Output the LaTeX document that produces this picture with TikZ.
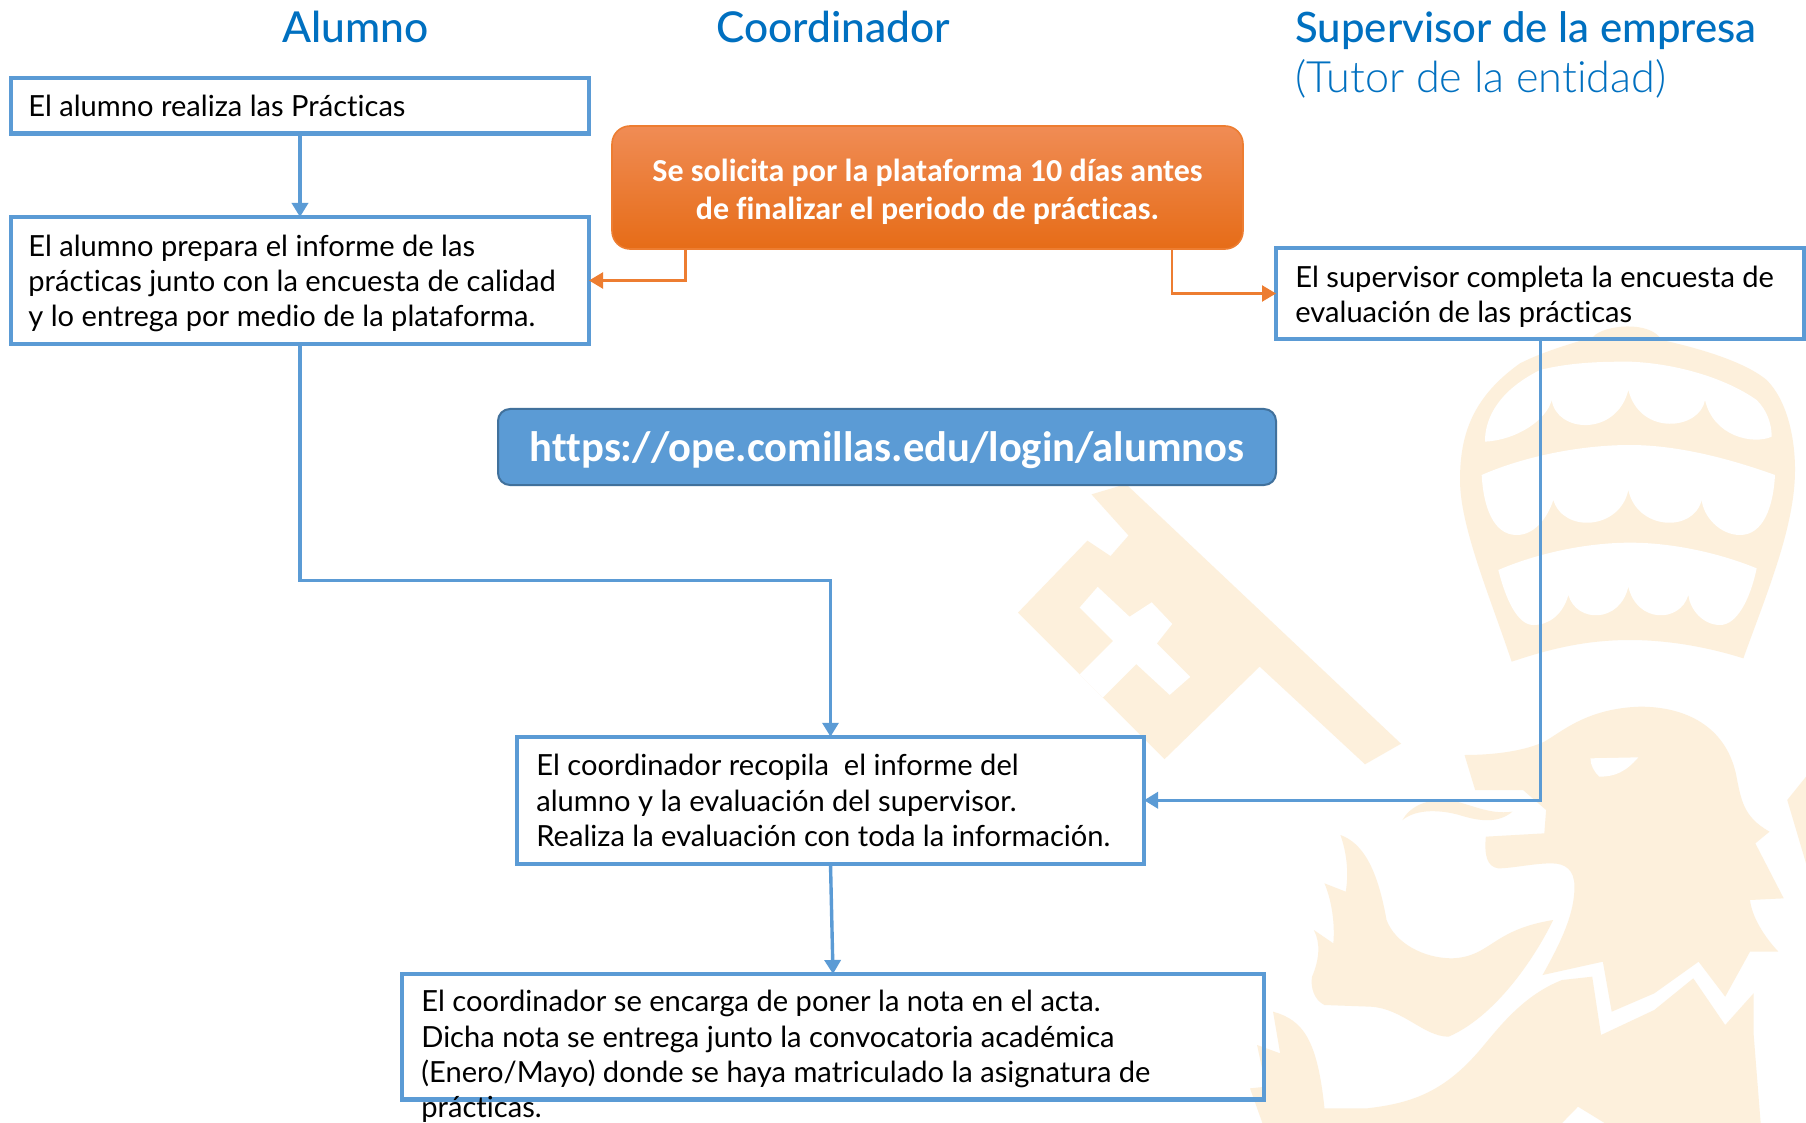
\documentclass[tikz,border=0pt]{standalone}
\usepackage{fontspec}
\usetikzlibrary{arrows.meta}
\setmainfont[Ligatures=NoCommon]{Lato}
\newfontfamily\carlito[Ligatures=NoCommon]{Carlito}
\newfontfamily\latomed[Ligatures=NoCommon]{Lato Medium}
\newfontfamily\latolight[Ligatures=NoCommon]{Lato Light}
\definecolor{boxblue}{HTML}{5B9BD5}
\definecolor{urlborder}{HTML}{41719C}
\definecolor{orangeline}{HTML}{ED7D31}
\definecolor{titleblue}{HTML}{0070C0}
\definecolor{crest}{HTML}{FDF0DC}
\tikzset{
  flowbox/.style={draw=boxblue,line width=2.2pt,outer sep=0pt,inner sep=0pt},
  boxtext/.style={anchor=north west,inner sep=0pt,align=left,font=\fontsize{14.55}{17.6}\selectfont,text=black},
  titletext/.style={anchor=base west,inner sep=0pt,text=titleblue},
  blueflow/.style={draw=boxblue,line width=1.7pt,-{Triangle[length=7pt,width=8pt]}},
  orangeflow/.style={draw=orangeline,line width=1.2pt,-{Triangle[length=7pt,width=8pt]}},
  crestfill/.style={fill=crest,draw=none},
  crestgap/.style={fill=white,draw=none}
}
\begin{document}
\begin{tikzpicture}[x=0.5pt,y=-0.5pt]
\useasboundingbox (0,0) rectangle (1806,1123);
\fill[white] (0,0) rectangle (1806,1123);
% crown
\begin{scope}[shift={(1440,320)},x=0.16667pt,y=-0.16667pt]
\fill[crestfill] (215,1025) .. controls (150,830) and (60,620) .. (60,480)
  .. controls (60,340) and (100,230) .. (240,130) .. controls (320,90) and (400,70) .. (460,50)
  .. controls (490,15) and (630,0) .. (665,60) .. controls (800,90) and (920,130) .. (980,180)
  .. controls (1040,240) and (1065,350) .. (1065,450) .. controls (1065,620) and (980,820) .. (910,1015)
  .. controls (800,980) and (680,960) .. (570,960) .. controls (430,960) and (320,990) .. (215,1025) -- cycle;
\fill[crestgap] (135,355) .. controls (140,270) and (200,200) .. (300,150) .. controls (400,125) and (500,125) .. (570,125)
  .. controls (700,130) and (850,170) .. (950,240) .. controls (980,270) and (995,310) .. (995,350)
  .. controls (940,375) and (820,350) .. (795,240) .. controls (780,330) and (600,350) .. (565,210)
  .. controls (530,350) and (350,340) .. (335,240) .. controls (320,300) and (230,360) .. (135,365) -- cycle;
\fill[crestgap] (125,465) .. controls (250,410) and (420,375) .. (570,375) .. controls (720,375) and (880,420) .. (1005,465)
  .. controls (1000,560) and (970,645) .. (900,645) .. controls (840,645) and (790,590) .. (785,540)
  .. controls (760,640) and (590,630) .. (565,510) .. controls (540,630) and (370,640) .. (340,540)
  .. controls (320,600) and (280,645) .. (230,645) .. controls (160,645) and (130,560) .. (125,465) -- cycle;
\fill[crestgap] (175,750) .. controls (290,700) and (440,668) .. (570,668) .. controls (700,668) and (840,700) .. (950,745)
  .. controls (930,840) and (890,915) .. (840,915) .. controls (790,915) and (750,870) .. (745,825)
  .. controls (720,910) and (590,910) .. (565,800) .. controls (540,910) and (410,910) .. (385,825)
  .. controls (370,880) and (330,915) .. (280,915) .. controls (230,915) and (195,830) .. (175,750) -- cycle;
\end{scope}
% key
\begin{scope}[shift={(1000,317)},x=0.25707pt,y=-0.25707pt]
\fill[crestfill] (178,345) -- (245,325) -- (780,830) -- (710,870) -- (505,680) -- (320,860) -- (200,740)
  -- (155,695) -- (35,575) -- (170,435) -- (215,465) -- (250,425) -- cycle;
\fill[crestgap] (190,525) -- (252,583) -- (295,555) -- (335,597) -- (305,635) -- (370,700) -- (330,735)
  -- (265,675) -- (200,740) -- (155,695) -- (220,630) -- (155,565) -- cycle;
\end{scope}
% lion
\begin{scope}[shift={(1250,700)},x=0.1773pt,y=-0.16667pt]
\fill[crestfill] (605,165) .. controls (700,165) and (780,150) .. (830,125) .. controls (880,95) and (950,25) .. (1100,20)
  .. controls (1230,20) and (1340,80) .. (1370,220) .. controls (1385,300) and (1390,350) .. (1465,395)
  -- (1425,430) -- (1505,595) -- (1410,600) .. controls (1415,650) and (1450,710) .. (1490,755) -- (1410,755)
  -- (1340,890) -- (1265,785) -- (1140,880) -- (1020,935) -- (995,785) -- (825,825)
  .. controls (880,720) and (915,640) .. (915,560) .. controls (915,510) and (890,490) .. (850,490)
  .. controls (800,490) and (740,505) .. (700,505) .. controls (670,500) and (660,470) .. (665,410)
  -- (830,400) -- (835,330) -- (770,270) -- (635,270) -- cycle;
\fill[crestgap] (960,175) -- (1095,172) .. controls (1060,215) and (1030,230) .. (985,230) .. controls (970,215) and (960,195) .. (960,175) -- cycle;
\fill[crestfill] (430,360) .. controls (450,320) and (500,295) .. (560,300) .. controls (620,310) and (670,345) .. (740,335)
  .. controls (700,370) and (650,365) .. (590,345) .. controls (540,330) and (470,325) .. (430,360) -- cycle;
\fill[crestfill] (255,405) .. controls (320,430) and (360,510) .. (385,660) .. controls (410,730) and (490,775) .. (570,775)
  .. controls (680,770) and (680,690) .. (855,660) .. controls (800,780) and (690,950) .. (560,1010)
  .. controls (490,1010) and (430,925) .. (340,920) -- (210,915) .. controls (180,900) and (170,860) .. (175,830)
  .. controls (195,780) and (200,730) .. (180,690) -- (235,730) .. controls (240,670) and (230,600) .. (210,550)
  -- (270,575) .. controls (280,510) and (270,450) .. (255,405) -- cycle;
\fill[crestfill] (1420,880) -- (1420,1000) -- (1440,1269) -- (1000,1269) -- (925,1220) -- (880,1269) -- (35,1269)
  -- (0,1165) -- (45,1160) -- (20,1035) -- (85,1060) -- (65,935) .. controls (150,960) and (190,1020) .. (210,1225)
  -- (330,1225) .. controls (450,1210) and (540,1180) .. (640,1060) .. controls (690,1000) and (760,890) .. (880,840)
  -- (965,830) -- (990,1005) -- (1140,930) -- (1250,835) -- (1340,975) -- cycle;
\fill[crestfill] (1568,230) -- (1515,300) -- (1568,490) -- cycle;
\end{scope}
% boxes
\node[flowbox,minimum width=289pt,minimum height=27.75pt] (b1) at (300,105.75) {};
\node[flowbox,minimum width=289pt,minimum height=63.5pt] (b2) at (300,280.5) {};
\node[flowbox,minimum width=264pt,minimum height=45.5pt] (b3) at (1540,293.5) {};
\node[flowbox,minimum width=313.5pt,minimum height=63.5pt] (b4) at (830.5,800.25) {};
\node[flowbox,minimum width=431pt,minimum height=62.8pt] (b5) at (833,1036.8) {};
\node[draw=orangeline,line width=0.8pt,rounded corners=9pt,outer sep=0pt,inner sep=0pt,
  minimum width=315.5pt,minimum height=61.5pt,top color={rgb,255:red,240;green,140;blue,85},middle color={rgb,255:red,245;green,124;blue,43},bottom color={rgb,255:red,230;green,108;blue,23}] (req) at (927.5,187.5) {};
\node[inner sep=0pt,align=center,text=white,font=\carlito\bfseries\fontsize{16}{19}\selectfont] (reqtext) at (927.5,192)
  {Se solicita por la plataforma 10 días antes\\de finalizar el periodo de prácticas.};
\node[draw=urlborder,line width=1pt,rounded corners=6pt,fill=boxblue,outer sep=0pt,inner sep=0pt,
  minimum width=389pt,minimum height=38pt] (url) at (887,447) {};
\node[inner sep=0pt,text=white,font=\carlito\bfseries\fontsize{21.3}{25}\selectfont] (urltext) at (887,450.5)
  {https://ope.comillas.edu/login/alumnos};
% titles
\node[titletext,font=\fontsize{21.3}{24}\selectfont\latomed] (t1) at (282,43) {Alumno};
\node[titletext,font=\fontsize{21.25}{24}\selectfont\latomed] (t2) at (716,43) {Coordinador};
\node[titletext,font=\fontsize{20.95}{24}\selectfont\latomed] (t3) at (1295,43) {Supervisor de la empresa};
\node[titletext,font=\fontsize{21.6}{24}\selectfont\latolight] (t4) at (1295,93) {(Tutor de la entidad)};
% box texts
\node[boxtext] (x1) at (28,94.6) {El alumno realiza las Prácticas};
\node[boxtext] (x2) at (28,234.6) {El alumno prepara el informe de las\\prácticas junto con la encuesta de calidad\\y lo entrega por medio de la plataforma.};
\node[boxtext] (x3) at (1295,265.6) {El supervisor completa la encuesta de\\evaluación de las prácticas};
\node[boxtext] (x4) at (536,754) {El coordinador recopila\ \ el informe del\\alumno y la evaluación del supervisor.\\Realiza la evaluación con toda la información.};
\node[boxtext] (x5) at (421,990) {El coordinador se encarga de poner la nota en el acta.\\Dicha nota se entrega junto la convocatoria académica\\(Enero/Mayo) donde se haya matriculado la asignatura de\\prácticas.};
% connector ends on the box edges
\coordinate (o1) at (685.5,249);
\coordinate (o2) at (1172,249);
\coordinate (s1) at (1540.7,339);
\coordinate (bend) at (300,580.5);
% connectors
\draw[blueflow] (b1) -- (b2);
\draw[blueflow] (b2.south) -- (bend) -| (b4.north);
\draw[blueflow] (s1) |- (b4.east);
\draw[blueflow] (b4.south) -- (b5.north);
\draw[orangeflow] (o1) |- (b2.east);
\draw[orangeflow] (o2) |- (b3.west);
\end{tikzpicture}
\end{document}
